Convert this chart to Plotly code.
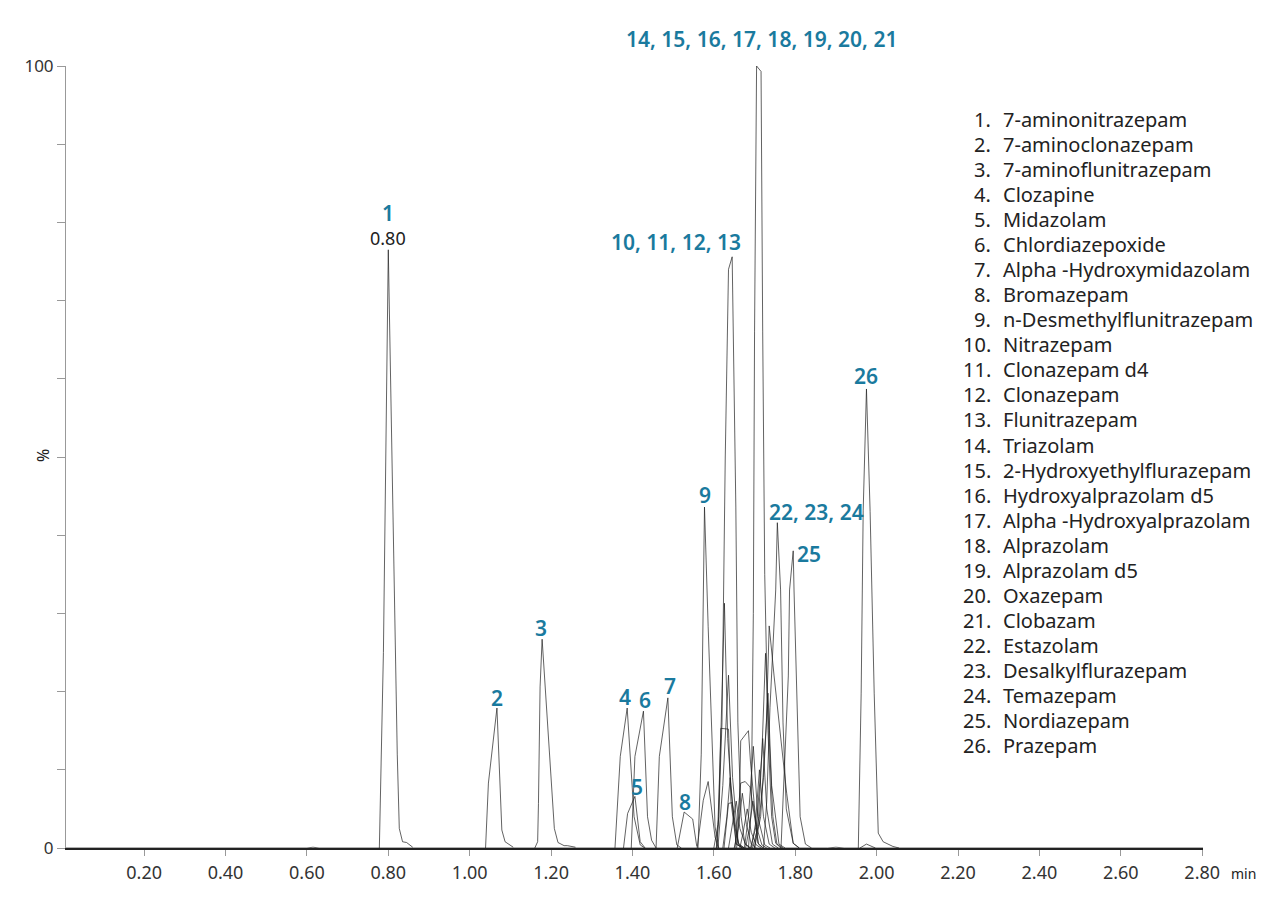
"""Overlaid MRM chromatogram of the 26 benzodiazepine panel."""
import plotly.graph_objects as go

# retention time (min) and response (%), one pair per trace
t_01 = [0.778, 0.788, 0.800, 0.816, 0.822, 0.827, 0.835, 0.845, 0.860]
y_01 = [0, 25, 76.5, 29, 12, 2.5, 0.8, 0.7, 0.1]
t_02 = [1.039, 1.046, 1.067, 1.079, 1.087, 1.107]
y_02 = [0, 8.3, 17.9, 2.3, 0.8, 0.1]
t_03 = [1.160, 1.167, 1.169, 1.173, 1.178, 1.208, 1.217, 1.232, 1.240, 1.260]
y_03 = [0, 0.8, 5.7, 20.6, 26.7, 2.5, 0.7, 0.3, 0.3, 0.1]
t_04 = [1.357, 1.370, 1.387, 1.404, 1.419, 1.430]
y_04 = [0, 11.7, 17.9, 4, 0.4, 0]
t_05 = [1.378, 1.388, 1.406, 1.419, 1.431]
y_05 = [0, 4.4, 6.6, 0.8, 0]
t_06 = [1.397, 1.406, 1.427, 1.437, 1.447, 1.458]
y_06 = [0, 11.7, 17.5, 4, 1, 0]
t_07 = [1.458, 1.466, 1.487, 1.498, 1.509, 1.520]
y_07 = [0, 11.7, 19.2, 4, 0.4, 0]
t_08 = [1.510, 1.527, 1.548, 1.558]
y_08 = [0, 4.6, 3.7, 0.2]
t_09 = [1.559, 1.574, 1.586, 1.603, 1.611]
y_09 = [0, 6.1, 8.5, 1.4, 0]
t_10 = [1.561, 1.569, 1.577, 1.586, 1.603, 1.612]
y_10 = [0, 12, 43.6, 28.3, 2.7, 0]
t_11 = [1.606, 1.612, 1.620, 1.628, 1.636, 1.645, 1.654, 1.659, 1.667, 1.676, 1.690]
y_11 = [0, 4, 16, 50, 74, 75.6, 43.6, 16, 4, 0.6, 0]
t_12 = [1.685, 1.692, 1.697, 1.700, 1.705, 1.716, 1.720, 1.725, 1.733, 1.742, 1.752, 1.765]
y_12 = [0, 5, 30, 66, 100, 99.3, 66, 35, 15, 4, 0.6, 0]
t_13 = [1.600, 1.610, 1.617, 1.626, 1.634, 1.642, 1.655, 1.670]
y_13 = [0, 3, 14, 31.3, 14, 8, 0.5, 0]
t_14 = [1.610, 1.622, 1.636, 1.646, 1.660, 1.675]
y_14 = [0, 8, 22.1, 9, 0.6, 0]
t_15 = [1.607, 1.612, 1.617, 1.636, 1.642, 1.655, 1.670]
y_15 = [0, 4, 15.3, 15.2, 6, 0.5, 0]
t_16 = [1.656, 1.662, 1.666, 1.685, 1.690, 1.708, 1.720]
y_16 = [0, 4, 13.7, 15, 11, 0.6, 0]
t_17 = [1.625, 1.636, 1.645, 1.660, 1.672]
y_17 = [0, 5.7, 5.8, 0.4, 0]
t_18 = [1.652, 1.666, 1.677, 1.689, 1.710, 1.722]
y_18 = [0, 8.3, 8.5, 7.8, 0.5, 0]
t_19 = [1.700, 1.715, 1.729, 1.736, 1.748, 1.762, 1.779, 1.795, 1.810]
y_19 = [0, 4, 16, 28.4, 22, 15.5, 7, 0.6, 0]
t_20 = [1.690, 1.705, 1.718, 1.727, 1.736, 1.745, 1.755, 1.770]
y_20 = [0, 3, 12, 24.9, 14, 4, 0.5, 0]
t_21 = [1.695, 1.710, 1.722, 1.733, 1.742, 1.760, 1.775]
y_21 = [0, 3, 9, 19.8, 8, 0.5, 0]
t_22 = [1.675, 1.685, 1.697, 1.708, 1.725, 1.738]
y_22 = [0, 4, 13, 4, 0.4, 0]
t_23 = [1.722, 1.730, 1.738, 1.746, 1.752, 1.756, 1.762, 1.764, 1.770, 1.778, 1.795, 1.810]
y_23 = [0, 6, 18, 26, 33, 41.6, 35, 33, 16, 5, 0.6, 0]
t_24 = [1.765, 1.770, 1.777, 1.783, 1.786, 1.795, 1.797, 1.805, 1.812, 1.825, 1.840]
y_24 = [0, 6, 16, 22, 33, 38, 33, 16, 4, 0.5, 0]
t_25 = [1.955, 1.962, 1.967, 1.975, 1.984, 1.994, 2.004, 2.016, 2.040, 2.055]
y_25 = [0, 19.8, 43.2, 58.7, 43, 19.8, 1.9, 0.8, 0.2, 0]
t_26 = [1.959, 1.975, 1.997]
y_26 = [0, 0.5, 0]
t_27 = [1.622, 1.632, 1.640, 1.650, 1.662, 1.675]
y_27 = [0, 4, 9, 3, 0.4, 0]
t_28 = [1.636, 1.646, 1.655, 1.664, 1.678, 1.690]
y_28 = [0, 3, 6, 2.5, 0.4, 0]
t_29 = [1.650, 1.660, 1.670, 1.680, 1.692, 1.705]
y_29 = [0, 2.5, 7, 3, 0.5, 0]
t_30 = [1.664, 1.672, 1.682, 1.692, 1.704, 1.716]
y_30 = [0, 2, 5, 2, 0.4, 0]
t_31 = [1.678, 1.687, 1.696, 1.706, 1.718, 1.730]
y_31 = [0, 2.5, 6, 2.5, 0.4, 0]
t_32 = [1.692, 1.702, 1.712, 1.722, 1.736, 1.750]
y_32 = [0, 3, 10, 4, 0.5, 0]
t_33 = [1.700, 1.710, 1.720, 1.730, 1.744, 1.758]
y_33 = [0, 4, 14, 5, 0.5, 0]
t_base = [0.008, 0.600, 0.615, 0.630, 1.880, 1.900, 1.920, 2.802]
y_base = [0, 0, 0.1, 0, 0, 0.1, 0, 0]

traces = [
    (t_base, y_base), (t_01, y_01), (t_02, y_02), (t_03, y_03), (t_04, y_04),
    (t_05, y_05), (t_06, y_06), (t_07, y_07), (t_08, y_08), (t_09, y_09),
    (t_10, y_10), (t_11, y_11), (t_12, y_12), (t_13, y_13), (t_14, y_14),
    (t_15, y_15), (t_16, y_16), (t_17, y_17), (t_18, y_18), (t_19, y_19),
    (t_20, y_20), (t_21, y_21), (t_22, y_22), (t_23, y_23), (t_24, y_24),
    (t_25, y_25), (t_26, y_26), (t_27, y_27), (t_28, y_28), (t_29, y_29),
    (t_30, y_30), (t_31, y_31), (t_32, y_32), (t_33, y_33),
]

compounds = [
    "7-aminonitrazepam", "7-aminoclonazepam", "7-aminoflunitrazepam", "Clozapine",
    "Midazolam", "Chlordiazepoxide", "Alpha -Hydroxymidazolam", "Bromazepam",
    "n-Desmethylflunitrazepam", "Nitrazepam", "Clonazepam d4", "Clonazepam",
    "Flunitrazepam", "Triazolam", "2-Hydroxyethylflurazepam", "Hydroxyalprazolam d5",
    "Alpha -Hydroxyalprazolam", "Alprazolam", "Alprazolam d5", "Oxazepam", "Clobazam",
    "Estazolam", "Desalkylflurazepam", "Temazepam", "Nordiazepam", "Prazepam",
]

x_ticks = [0.20, 0.40, 0.60, 0.80, 1.00, 1.20, 1.40, 1.60, 1.80, 2.00, 2.20, 2.40, 2.60, 2.80]
y_ticks = [0, 10, 20, 30, 40, 50, 60, 70, 80, 90, 100]
y_labels = ["0", "", "", "", "", "", "", "", "", "", "100"]

peak_labels = [
    ("1", 388, 213), ("2", 497, 698), ("3", 541, 628), ("4", 625, 697), ("5", 637, 787),
    ("6", 645, 700), ("7", 670, 686), ("8", 685, 802), ("9", 705, 495),
    ("10, 11, 12, 13", 676, 242), ("14, 15, 16, 17, 18, 19, 20, 21", 761, 39),
    ("22, 23, 24", 816, 512), ("25", 809, 554), ("26", 866, 376),
]

# the page body adds 8px on the top and left, so plot edges are given relative to the figure
PAGE = 8
LEFT, RIGHT, TOP, BOTTOM = 66 - PAGE, 1203 - PAGE, 66 - PAGE, 848 - PAGE
WIDTH, HEIGHT = 1264, 900
TEAL = "#1a7a9e"
FONT = "Noto Sans"


def note(text, px, py, size, color="#222222", anchor="center", weight="normal", angle=0):
    """Text placed by page pixel, converted to paper coordinates."""
    return dict(
        text=text, xref="paper", yref="paper",
        x=(px - PAGE - LEFT) / (RIGHT - LEFT), y=(BOTTOM - (py - PAGE)) / (BOTTOM - TOP),
        xanchor=anchor, yanchor="middle", showarrow=False, textangle=angle,
        font=dict(size=size, color=color, family=FONT, weight=weight),
    )


fig = go.Figure()
for t, y in traces:
    fig.add_trace(go.Scatter(x=t, y=y, mode="lines", showlegend=False,
                             line=dict(color="#1f1f1f", width=0.7)))

annotations = [note(text, px, py, 21, TEAL, weight=600) for text, px, py in peak_labels]
annotations.append(note("0.80", 388, 238, 18))
annotations.append(note("%", 43, 456, 16, angle=-90))
annotations.append(note("min", 1243, 873, 14))
for i, name in enumerate(compounds):
    row_y = 119.5 + i * 25.04
    annotations.append(note(f"{i + 1}.", 993, row_y, 20, anchor="right"))
    annotations.append(note(name, 1001, row_y, 20, anchor="left"))

fig.update_layout(
    width=WIDTH, height=HEIGHT,
    margin=dict(l=LEFT, r=WIDTH - RIGHT, t=TOP, b=HEIGHT - BOTTOM, autoexpand=False),
    paper_bgcolor="white", plot_bgcolor="white",
    font=dict(family=FONT, color="#333333"),
    annotations=annotations,
    showlegend=False,
)
fig.update_xaxes(
    range=[0.008, 2.802], tickvals=x_ticks, tickformat=".2f", ticks="outside", ticklen=6,
    tickcolor="#999999", tickwidth=1, showgrid=False, zeroline=False,
    showline=True, linecolor="#222222", linewidth=1.5, ticklabelstandoff=2,
    tickfont=dict(size=18, color="#333333"),
)
fig.update_yaxes(
    range=[0, 100], tickvals=y_ticks, ticktext=y_labels, ticks="outside", ticklen=8,
    tickcolor="#999999", tickwidth=1, showgrid=False, zeroline=False,
    showline=True, linecolor="#999999", linewidth=1,
    tickfont=dict(size=17, color="#333333"),
)

fig.write_html("out.html")
